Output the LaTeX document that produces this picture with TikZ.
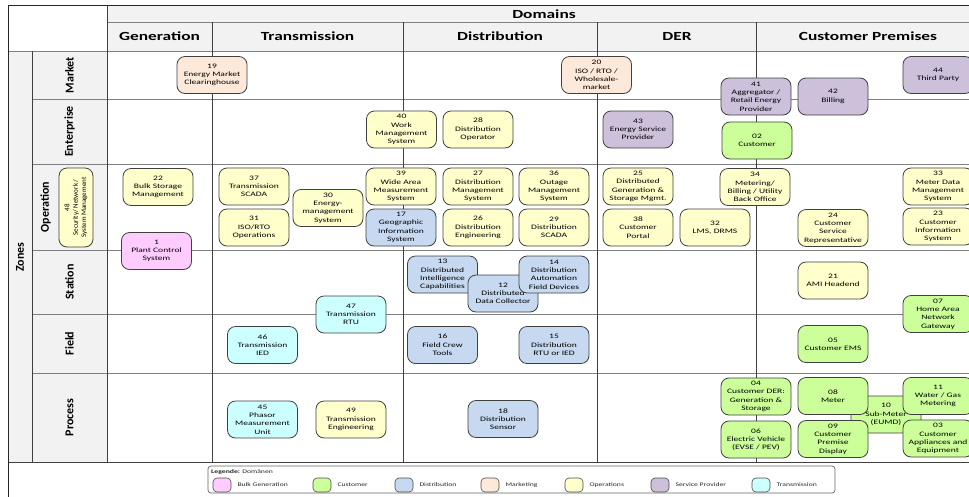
\documentclass[tikz,border=0pt]{standalone}
\usepackage{fontspec}
\newfontfamily\boxfont[FakeStretch=1.4]{Carlito}
\newfontfamily\rotfont{Carlito}
\usetikzlibrary{positioning}
\definecolor{bulkgen}{HTML}{FFCCFF}
\definecolor{custgreen}{HTML}{CCFF99}
\definecolor{distblue}{HTML}{C6D9F1}
\definecolor{mktpeach}{HTML}{FDE9D9}
\definecolor{opsyellow}{HTML}{FFFFCC}
\definecolor{servpurple}{HTML}{CCC0DA}
\definecolor{transcyan}{HTML}{CCFFFF}
\definecolor{headgray}{HTML}{F2F2F2}
\tikzset{
  comp/.style={draw=black!75, line width=0.8pt, rounded corners=8pt, minimum width=70pt, minimum height=37pt, inner sep=1pt, align=center, text=black, font=\boxfont\fontsize{6.8}{8.3}\selectfont},
  bulkbox/.style={comp, fill=bulkgen},
  custbox/.style={comp, fill=custgreen},
  distbox/.style={comp, fill=distblue},
  mktbox/.style={comp, fill=mktpeach},
  opsbox/.style={comp, fill=opsyellow},
  servbox/.style={comp, fill=servpurple},
  transbox/.style={comp, fill=transcyan},
  domhead/.style={text=black, font=\boxfont\bfseries\fontsize{12.4}{14}\selectfont},
  zonelab/.style={rotate=90, text=black, font=\rotfont\bfseries\fontsize{12}{14}\selectfont},
  rowline/.style={draw=black!50, line width=0.8pt},
  colline/.style={draw=black!75, line width=0.8pt},
  swatch/.style={draw=black!70, line width=0.6pt, rounded corners=4pt, minimum width=18pt, minimum height=14pt, inner sep=0pt},
  legtext/.style={inner sep=1pt, text=black!85, font=\boxfont\fontsize{5.5}{6.5}\selectfont}
}
\begin{document}
\begin{tikzpicture}[x=1pt, y=-1pt]
\useasboundingbox (0,0) rectangle (969,496);
\fill[headgray] (107,5) rectangle (980,51);
\fill[headgray] (8,51) rectangle (107,462);
\draw[rowline] (107,22) -- (980,22);
\draw[rowline] (8,51) -- (980,51);
\draw[rowline] (32,99) -- (980,99);
\draw[rowline] (32,164) -- (980,164);
\draw[rowline] (32,250) -- (980,250);
\draw[rowline] (32,314) -- (980,314);
\draw[rowline] (32,373) -- (980,373);
\draw[colline] (8,462) -- (980,462);
\draw[colline] (32,51) -- (32,462);
\draw[colline] (107,5) -- (107,462);
\draw[colline] (212,22) -- (212,462);
\draw[colline] (403,22) -- (403,462);
\draw[colline] (597,22) -- (597,462);
\draw[colline] (756,22) -- (756,462);
\draw[black!85, line width=1pt] (8,5) rectangle (980,497);

\node[domhead] (domains) at (544,14.5) {Domains};
\node[domhead] (dGen) at (159.5,36.5) {Generation};
\node[domhead] (dTrans) at (307.5,36.5) {Transmission};
\node[domhead] (dDist) at (500,36.5) {Distribution};
\node[domhead] (dDer) at (677,36.5) {DER};
\node[domhead] (dCust) at (868,36.5) {Customer Premises};

\node[zonelab] (zones) at (20,257) {Zones};
\node[zonelab] (zMarket) at (69.5,75) {Market};
\node[zonelab] (zEnter) at (69.5,131.5) {Enterprise};
\node[zonelab] (zOper) at (45.5,207) {Operation};
\node[zonelab] (zStation) at (69.5,282) {Station};
\node[zonelab] (zField) at (69.5,343.5) {Field};
\node[zonelab] (zProcess) at (69.5,417.5) {Process};

\node[mktbox] (n19) at (212,75) {19\\Energy Market\\Clearinghouse};
\node[mktbox] (n20) at (596.5,75) {20\\ISO / RTO /\\Wholesale-\\market};
\node[servbox] (n41) at (756,96.5) {41\\Aggregator /\\Retail Energy\\Provider};
\node[servbox] (n42) at (833,96.5) {42\\Billing};
\node[servbox] (n44) at (938,75) {44\\Third Party};

\node[opsbox] (n40) at (401.5,129.5) {40\\Work\\Management\\System};
\node[opsbox] (n28) at (478,129.5) {28\\Distribution\\Operator};
\node[servbox] (n43) at (638,129.5) {43\\Energy Service\\Provider};
\node[custbox] (n02) at (757,140.5) {02\\Customer};

\node[opsbox, rotate=90, minimum width=79pt, minimum height=34pt, font=\rotfont\fontsize{7}{8.3}\selectfont] (n48) at (76,207.5) {48\\Security/ Network /\\System Management};
\node[opsbox] (n22) at (158,187) {22\\Bulk Storage\\Management};
\node[opsbox] (n37) at (254,186.5) {37\\Transmission\\SCADA};
\node[opsbox] (n31) at (254,227.5) {31\\ISO/RTO\\Operations};
\node[opsbox] (n30) at (328,208) {30\\Energy-\\management\\System};
\node[opsbox] (n39) at (401,186.5) {39\\Wide Area\\Measurement\\System};
\node[distbox] (n17) at (401,227.5) {17\\Geographic\\Information\\System};
\node[opsbox] (n27) at (478,186.5) {27\\Distribution\\Management\\System};
\node[opsbox] (n26) at (478,227.5) {26\\Distribution\\Engineering};
\node[opsbox] (n36) at (554,186.5) {36\\Outage\\Management\\System};
\node[opsbox] (n29) at (554,227.5) {29\\Distribution\\SCADA};
\node[opsbox] (n25) at (638,186.5) {25\\Distributed\\Generation \&\\Storage Mgmt.};
\node[opsbox] (n38) at (638,227.5) {38\\Customer\\Portal};
\node[opsbox] (n32) at (715,227.5) {32\\LMS, DRMS};
\node[opsbox] (n34) at (755,187) {34\\Metering/\\Billing / Utility\\Back Office};
\node[opsbox] (n24) at (833,228) {24\\Customer\\Service\\Representative};
\node[opsbox] (n33) at (938,186.5) {33\\Meter Data\\Management\\System};
\node[opsbox] (n23) at (938,226.5) {23\\Customer\\Information\\System};
\node[bulkbox] (n1) at (156.5,251) {1\\Plant Control\\System};

\node[distbox] (n13) at (442.5,274.5) {13\\Distributed\\Intelligence\\Capabilities};
\node[distbox] (n12) at (503,293.5) {12\\Distributed\\Data Collector};
\node[distbox] (n14) at (554,274.5) {14\\Distribution\\Automation\\Field Devices};
\node[transbox] (n47) at (351,314.5) {47\\Transmission\\RTU};
\node[opsbox] (n21) at (833,280.5) {21\\AMI Headend};
\node[custbox] (n07) at (938,314) {07\\Home Area\\Network\\Gateway};

\node[transbox] (n46) at (262.5,345) {46\\Transmission\\IED};
\node[distbox] (n16) at (442.5,345) {16\\Field Crew\\Tools};
\node[distbox] (n15) at (554,345) {15\\Distribution\\RTU or IED};
\node[custbox] (n05) at (833,344) {05\\Customer EMS};

\node[transbox] (n45) at (262.5,419.5) {45\\Phasor\\Measurement\\Unit};
\node[opsbox] (n49) at (351,419.5) {49\\Transmission\\Engineering};
\node[distbox] (n18) at (503,419) {18\\Distribution\\Sensor};
\node[custbox] (n04) at (756,396.5) {04\\Customer DER:\\Generation \&\\Storage};
\node[custbox] (n06) at (756,439.5) {06\\Electric Vehicle\\(EVSE / PEV)};
\node[custbox] (n10) at (886,414.5) {10\\Sub-Meter\\(EUMD)};
\node[custbox] (n08) at (833,396) {08\\Meter};
\node[custbox] (n09) at (833,439) {09\\Customer\\Premise\\Display};
\node[custbox] (n11) at (938,396) {11\\Water / Gas\\Metering};
\node[custbox] (n03) at (938,438.5) {03\\Customer\\Appliances and\\Equipment};

\draw[draw=black!60, line width=0.7pt, rounded corners=3pt] (208,466) rectangle (835,493);
\node[legtext, anchor=west] (legTitle) at (210,472) {\textbf{Legende:} Domänen};
\node[swatch, fill=bulkgen] (sBulk) at (222,485) {};
\node[legtext, right=5pt of sBulk] (tBulk) {Bulk Generation};
\node[swatch, fill=custgreen] (sCust) at (322,485) {};
\node[legtext, right=5pt of sCust] (tCust) {Customer};
\node[swatch, fill=distblue] (sDist) at (404,485) {};
\node[legtext, right=5pt of sDist] (tDist) {Distribution};
\node[swatch, fill=mktpeach] (sMkt) at (490,485) {};
\node[legtext, right=5pt of sMkt] (tMkt) {Marketing};
\node[swatch, fill=opsyellow] (sOps) at (574,485) {};
\node[legtext, right=5pt of sOps] (tOps) {Operations};
\node[swatch, fill=servpurple] (sServ) at (660,485) {};
\node[legtext, right=5pt of sServ] (tServ) {Service Provider};
\node[swatch, fill=transcyan] (sTrans) at (761,485) {};
\node[legtext, right=5pt of sTrans] (tTrans) {Transmission};
\end{tikzpicture}
\end{document}
